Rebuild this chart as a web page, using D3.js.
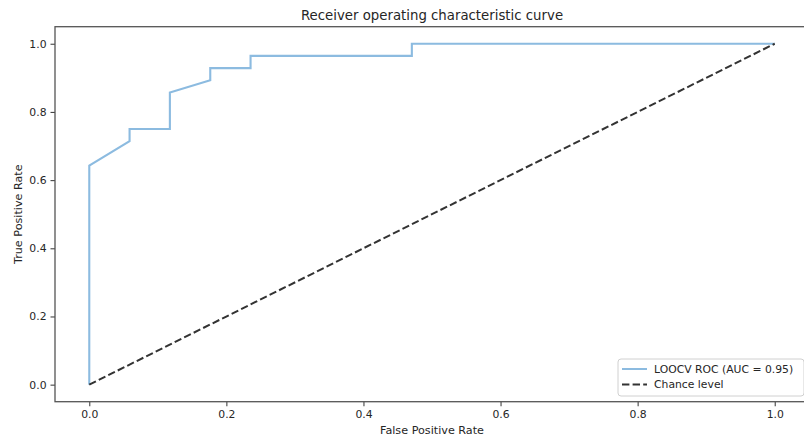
<!DOCTYPE html>
<html>
<head>
<meta charset="utf-8">
<script src="https://cdn.jsdelivr.net/npm/d3@7"></script>
<style>
  html, body { margin: 0; padding: 0; background: #fff; }
  svg { display: block; }
  text { font-family: "DejaVu Sans", sans-serif; fill: #262626; }
</style>
</head>
<body>
<svg id="chart" width="804" height="443"></svg>
<script>
// Data
const fpr = [0, 0, 0.0588, 0.0588, 0.1176, 0.1176, 0.1765, 0.1765, 0.2353, 0.2353, 0.4706, 0.4706, 1.0];
const tpr = [0, 0.6429, 0.7143, 0.75, 0.75, 0.8571, 0.8929, 0.9286, 0.9286, 0.9643, 0.9643, 1.0, 1.0];
const chanceX = [0, 1];
const chanceY = [0, 1];
const tickValues = [0, 0.2, 0.4, 0.6, 0.8, 1.0];
const legendLabels = ["LOOCV ROC (AUC = 0.95)", "Chance level"];
const titleText = "Receiver operating characteristic curve";
const xLabel = "False Positive Rate";
const yLabel = "True Positive Rate";

(function () {
const svg = d3.select("#chart");
const mLeft = 55, mRight = 809, mTop = 26.7, mBottom = 401.7;

const x = d3.scaleLinear().domain([-0.05, 1.05]).range([mLeft, mRight]);
const y = d3.scaleLinear().domain([-0.05, 1.05]).range([mBottom, mTop]);

// Axes
const xAxis = d3.axisBottom(x).tickValues(tickValues).tickFormat(d3.format(".1f")).tickSize(4.5).tickPadding(4);
const yAxis = d3.axisLeft(y).tickValues(tickValues).tickFormat(d3.format(".1f")).tickSize(4.5).tickPadding(4);

const gx = svg.append("g").attr("transform", `translate(0,${mBottom})`).call(xAxis);
const gy = svg.append("g").attr("transform", `translate(${mLeft},0)`).call(yAxis);
[gx, gy].forEach(g => {
  g.select(".domain").remove();
  g.selectAll(".tick line").attr("stroke", "#444").attr("stroke-width", 1.1);
  g.selectAll(".tick text").attr("font-size", "10.8px").attr("font-family", "DejaVu Sans, sans-serif").attr("fill", "#2a2a2a");
});

// Lines
const line = d3.line().x(d => x(d[0])).y(d => y(d[1]));
svg.append("path")
  .datum(fpr.map((v, i) => [v, tpr[i]]))
  .attr("d", line)
  .attr("fill", "none")
  .attr("stroke", "#8cbbe0")
  .attr("stroke-width", 2.1)
  .attr("stroke-linejoin", "miter");

svg.append("path")
  .datum(chanceX.map((v, i) => [v, chanceY[i]]))
  .attr("d", line)
  .attr("fill", "none")
  .attr("stroke", "#333")
  .attr("stroke-width", 2)
  .attr("stroke-dasharray", "7.4,3.2");

// Spines
svg.append("rect")
  .attr("x", mLeft).attr("y", mTop)
  .attr("width", mRight - mLeft).attr("height", mBottom - mTop)
  .attr("fill", "none").attr("stroke", "#555").attr("stroke-width", 1.3);

// Title and labels
svg.append("text").attr("x", (mLeft + mRight) / 2).attr("y", 20)
  .attr("text-anchor", "middle").attr("font-size", "13.3px").attr("fill", "#2a2a2a").text(titleText);
svg.append("text").attr("x", (mLeft + mRight) / 2).attr("y", 434)
  .attr("text-anchor", "middle").attr("font-size", "11.2px").attr("fill", "#2a2a2a").text(xLabel);
svg.append("text").attr("transform", `translate(22,${(mTop + mBottom) / 2}) rotate(-90)`)
  .attr("text-anchor", "middle").attr("font-size", "11.2px").attr("fill", "#2a2a2a").text(yLabel);

// Legend
const lg = svg.append("g");
lg.append("rect").attr("x", 618).attr("y", 359).attr("width", 186).attr("height", 37)
  .attr("rx", 3).attr("fill", "#fff").attr("fill-opacity", 0.8)
  .attr("stroke", "#d0d0d0").attr("stroke-width", 1);
const styles = [
  { stroke: "#8cbbe0", dash: null },
  { stroke: "#333", dash: "7.4,3.2" }
];
legendLabels.forEach((lab, i) => {
  const yy = 369 + i * 15.5;
  lg.append("line").attr("x1", 622).attr("x2", 647).attr("y1", yy).attr("y2", yy)
    .attr("stroke", styles[i].stroke).attr("stroke-width", 2)
    .attr("stroke-dasharray", styles[i].dash);
  lg.append("text").attr("x", 654).attr("y", yy + 3.8).attr("font-size", "10.8px").attr("fill", "#2a2a2a").text(lab);
});
})();
</script>
</body>
</html>
